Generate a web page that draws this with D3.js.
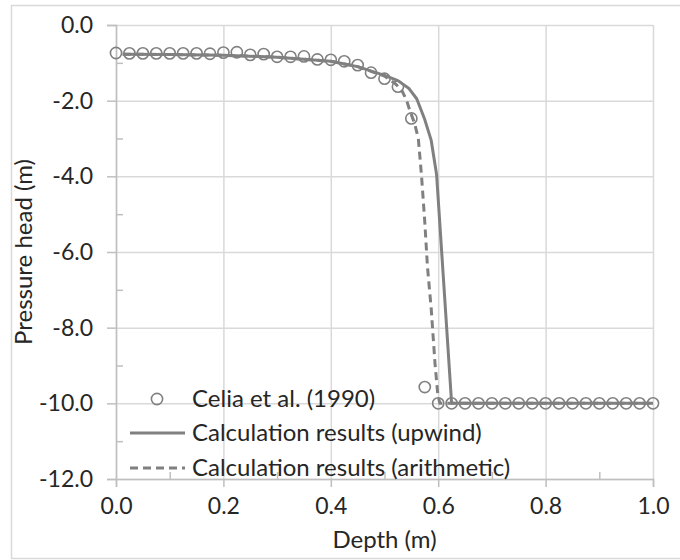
<!DOCTYPE html>
<html>
<head>
<meta charset="utf-8">
<script src="https://cdn.jsdelivr.net/npm/d3@7"></script>
<style>
  body { margin: 0; background: #fff; }
  text { font-family: Lato, "Open Sans", sans-serif; fill: #262626; }
</style>
</head>
<body>
<div id="chart"></div>
<script>

// Celia et al. (1990) reference points
var celiaDepth = [0, 0.025, 0.05, 0.075, 0.1, 0.125, 0.15, 0.175, 0.2, 0.225,
                  0.25, 0.275, 0.3, 0.325, 0.35, 0.375, 0.4, 0.425, 0.45, 0.475,
                  0.5, 0.525, 0.55, 0.575, 0.6, 0.625, 0.65, 0.675, 0.7, 0.725,
                  0.75, 0.775, 0.8, 0.825, 0.85, 0.875, 0.9, 0.925, 0.95, 0.975, 1.0];
var celiaHead = [-0.74, -0.75, -0.75, -0.75, -0.75, -0.75, -0.75, -0.76, -0.73, -0.72,
                 -0.79, -0.77, -0.84, -0.84, -0.83, -0.91, -0.92, -0.96, -1.06, -1.26,
                 -1.42, -1.63, -2.47, -9.57, -10.0, -10.0, -10.0, -10.0, -10.0, -10.0,
                 -10.0, -10.0, -10.0, -10.0, -10.0, -10.0, -10.0, -10.0, -10.0, -10.0, -10.0];

// calculation results (upwind)
var upwindDepth = [0.0125, 0.1, 0.2, 0.3, 0.4, 0.45, 0.5, 0.525, 0.545, 0.56, 0.575, 0.587, 0.597, 0.625, 1.0];
var upwindHead = [-0.77, -0.78, -0.8, -0.85, -0.96, -1.1, -1.33, -1.47, -1.67, -1.95, -2.5, -3.05, -3.95, -10.0, -10.0];

// calculation results (arithmetic)
var arithDepth = [0.0125, 0.1, 0.2, 0.3, 0.4, 0.45, 0.5, 0.52, 0.532, 0.541, 0.547, 0.556, 0.563,
                  0.569, 0.575, 0.58, 0.587, 0.594, 0.599, 0.603, 1.0];
var arithHead = [-0.77, -0.78, -0.8, -0.85, -0.96, -1.1, -1.35, -1.55, -1.72, -1.99, -2.25, -2.6, -3.0,
                 -4.0, -5.2, -6.39, -7.5, -8.94, -9.73, -10.0, -10.0];

var depthTicks = [0, 0.2, 0.4, 0.6, 0.8, 1.0];
var depthMinor = [0.1, 0.3, 0.5, 0.7, 0.9];
var headTicks = [0, -2, -4, -6, -8, -10, -12];
var headMinor = [-1, -3, -5, -7, -9, -11];

var legendNames = ["Celia et al. (1990)", "Calculation results (upwind)", "Calculation results (arithmetic)"];

// size of the page and the plot area
var W = 680, H = 560;
var margin = {top: 25, right: 27, bottom: 81, left: 116},
    width = W - margin.left - margin.right,
    height = H - margin.top - margin.bottom;

var grey = "#808080";

// one decimal, plain hyphen for the minus sign
var fmt = function(d) { return d3.format(".1f")(d).replace("\u2212", "-"); };

var x = d3.scaleLinear().domain([0, 1]).range([0, width]);
var y = d3.scaleLinear().domain([-12, 0]).range([height, 0]);

var svg = d3.select("#chart").append("svg")
    .attr("width", W)
    .attr("height", H);

// outer chart border
svg.append("rect")
    .attr("x", 11.5).attr("y", 5.5)
    .attr("width", W).attr("height", 553)
    .attr("fill", "none")
    .attr("stroke", "#d9d9d9")
    .attr("stroke-width", 1.5);

var g = svg.append("g")
    .attr("transform", "translate(" + margin.left + "," + margin.top + ")");

// gridlines
g.append("g")
    .attr("class", "grid")
    .call(d3.axisLeft(y).tickValues(headTicks).tickSize(-width).tickFormat(""));
g.append("g")
    .attr("class", "grid")
    .attr("transform", "translate(0," + height + ")")
    .call(d3.axisBottom(x).tickValues(depthTicks).tickSize(-height).tickFormat(""));
g.selectAll(".grid .domain").remove();
g.selectAll(".grid line").attr("stroke", "#d9d9d9").attr("stroke-width", 1.5);

// minor ticks, inside the plot
g.append("g")
    .attr("class", "minor")
    .call(d3.axisLeft(y).tickValues(headMinor).tickSize(-7).tickFormat(""));
g.append("g")
    .attr("class", "minor")
    .attr("transform", "translate(0," + height + ")")
    .call(d3.axisBottom(x).tickValues(depthMinor).tickSize(-7).tickFormat(""));

// Y axis
g.append("g")
    .attr("class", "axis")
    .call(d3.axisLeft(y).tickValues(headTicks).tickSize(9).tickPadding(14)
        .tickFormat(fmt));

// X axis
g.append("g")
    .attr("class", "axis")
    .attr("transform", "translate(0," + height + ")")
    .call(d3.axisBottom(x).tickValues(depthTicks).tickSize(8).tickPadding(11)
        .tickFormat(fmt));

g.selectAll(".minor .domain").remove();
g.selectAll(".axis .domain, .axis line, .minor line")
    .attr("stroke", "#bfbfbf").attr("stroke-width", 1.5);
g.selectAll(".axis text")
    .attr("fill", "#262626")
    .style("font-size", "23px")
    .style("font-family", "Lato, 'Open Sans', sans-serif");

// axis titles
g.append("text")
    .attr("x", width / 2)
    .attr("y", height + 69)
    .attr("text-anchor", "middle")
    .style("font-size", "24px")
    .text("Depth (m)");

g.append("text")
    .attr("transform", "translate(-84," + (height / 2) + ") rotate(-90)")
    .attr("text-anchor", "middle")
    .style("font-size", "24px")
    .text("Pressure head (m)");

// the series
var celia = celiaDepth.map(function(d, i) { return {x: d, y: celiaHead[i]}; });
var upwind = upwindDepth.map(function(d, i) { return {x: d, y: upwindHead[i]}; });
var arith = arithDepth.map(function(d, i) { return {x: d, y: arithHead[i]}; });

var valueline = d3.line()
    .x(function(d) { return x(d.x); })
    .y(function(d) { return y(d.y); });

g.selectAll(".celia")
    .data(celia)
    .enter().append("circle")
    .attr("class", "celia")
    .attr("cx", function(d) { return x(d.x); })
    .attr("cy", function(d) { return y(d.y); })
    .attr("r", 5.6)
    .attr("fill", "none")
    .attr("stroke", grey)
    .attr("stroke-width", 1.6);

g.append("path")
    .datum(upwind)
    .attr("d", valueline)
    .attr("fill", "none")
    .attr("stroke", grey)
    .attr("stroke-width", 3)
    .attr("stroke-linejoin", "round");

g.append("path")
    .datum(arith)
    .attr("d", valueline)
    .attr("fill", "none")
    .attr("stroke", grey)
    .attr("stroke-width", 3)
    .attr("stroke-dasharray", "8,5");

// legend
var legend = svg.append("g");
var rowY = [399, 433, 468];

legend.append("circle")
    .attr("cx", 157).attr("cy", rowY[0])
    .attr("r", 5.6)
    .attr("fill", "none")
    .attr("stroke", grey)
    .attr("stroke-width", 1.6);
legend.append("line")
    .attr("x1", 130).attr("x2", 185)
    .attr("y1", rowY[1]).attr("y2", rowY[1])
    .attr("stroke", grey).attr("stroke-width", 3);
legend.append("line")
    .attr("x1", 130).attr("x2", 185)
    .attr("y1", rowY[2]).attr("y2", rowY[2])
    .attr("stroke", grey).attr("stroke-width", 3)
    .attr("stroke-dasharray", "8,5");

legend.selectAll(".ltext")
    .data(legendNames)
    .enter().append("text")
    .attr("class", "ltext")
    .attr("x", 192)
    .attr("y", function(d, i) { return rowY[i]; })
    .attr("dy", "0.35em")
    .style("font-size", "24px")
    .text(function(d) { return d; });

</script>
</body>
</html>
